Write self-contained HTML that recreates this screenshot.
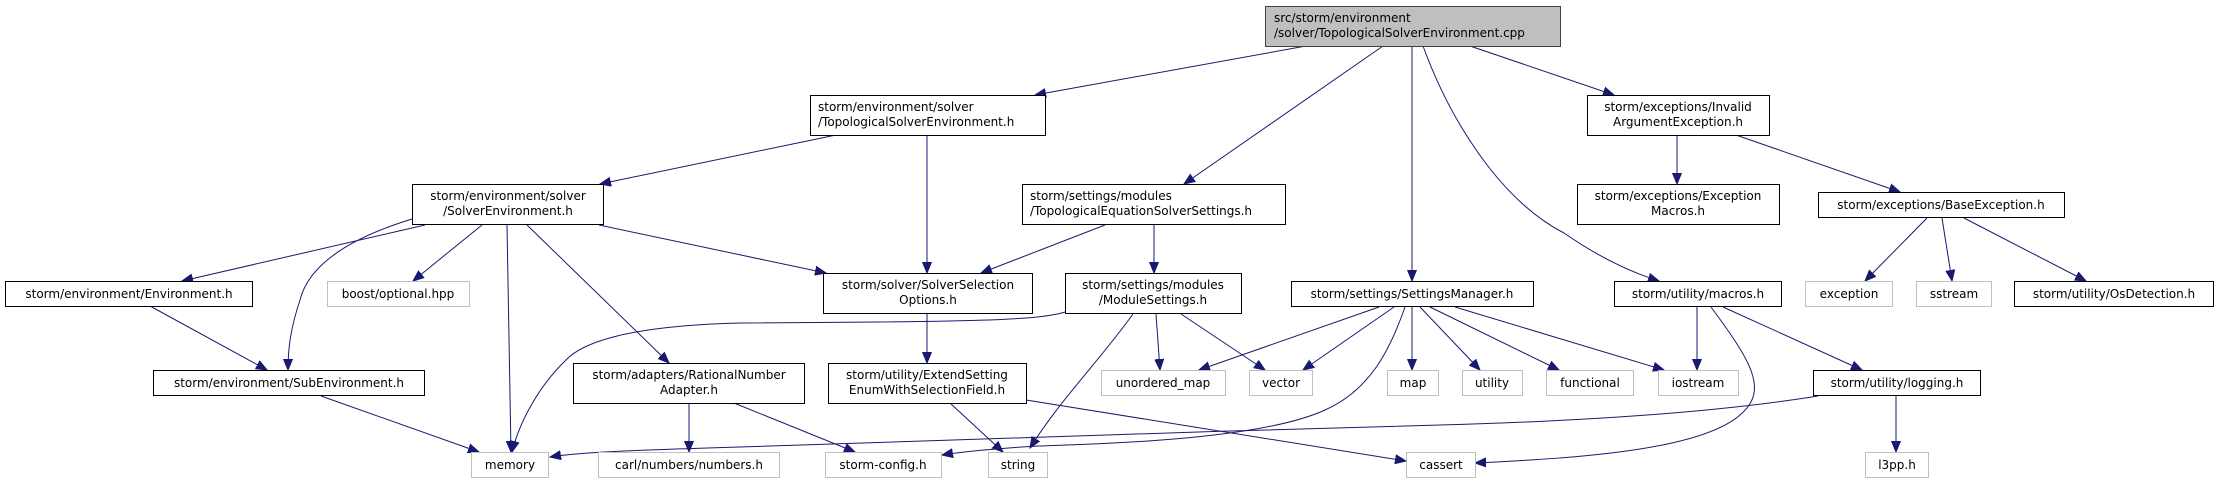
<!DOCTYPE html>
<html><head><meta charset="utf-8"><style>
html,body{margin:0;padding:0;background:#fff;}
svg{display:block;}
text{font-family:"DejaVu Sans","Liberation Sans",sans-serif;font-size:12px;fill:#000;}
.n{fill:#fff;stroke:#000;stroke-width:1;}
.g{fill:#fff;stroke:#bfbfbf;stroke-width:1;}
.e{fill:none;stroke:#191970;stroke-width:1;}
</style></head><body>
<svg width="2219" height="484" viewBox="0 0 2219 484" xmlns="http://www.w3.org/2000/svg">
<defs>
<marker id="a" markerUnits="userSpaceOnUse" markerWidth="12" markerHeight="10" refX="11" refY="5" orient="auto">
<path d="M0,0.5 L11,5 L0,9.5 z" fill="#191970" stroke="#191970"/>
</marker>
</defs>
<!-- edges -->
<g class="e" marker-end="url(#a)">
<path d="M1306,46 L1035,95"/>
<path d="M1383,46 L1184,184"/>
<path d="M1412,46 L1412,281"/>
<path d="M1423,46 C1450,120 1500,200 1564,233 C1600,258 1630,272 1659,281"/>
<path d="M1470,46 L1614,95"/>
<path d="M836,135 L600,184"/>
<path d="M927,135 L927,273"/>
<path d="M425,225 L182,281"/>
<path d="M412,219 C360,235 310,260 300,300 C290,330 288,350 288,370"/>
<path d="M482,225 L413,281"/>
<path d="M507,225 L511,452"/>
<path d="M527,225 L669,363"/>
<path d="M599,225 L826,273"/>
<path d="M150,306 L267,370"/>
<path d="M321,396 L479,452"/>
<path d="M1105,225 L981,273"/>
<path d="M1154,225 L1154,273"/>
<path d="M927,313 L927,363"/>
<path d="M1065,312 C1040,320 980,322 740,323 C620,326 580,345 566,360 C540,385 520,420 512,452"/>
<path d="M1133,314 C1100,360 1060,400 1030,448"/>
<path d="M1156,314 L1160,370"/>
<path d="M1181,314 L1265,370"/>
<path d="M689,403 L689,452"/>
<path d="M734,403 L855,452"/>
<path d="M950,403 L1003,452"/>
<path d="M1026,400 L1406,461"/>
<path d="M1379,307 L1199,370"/>
<path d="M1394,307 L1303,370"/>
<path d="M1412,307 L1412,370"/>
<path d="M1420,307 L1480,370"/>
<path d="M1430,307 L1559,370"/>
<path d="M1455,307 L1664,370"/>
<path d="M1405,307 C1390,350 1370,390 1325,410 C1260,440 1100,444 1039,446 C1000,448 960,452 942,455"/>
<path d="M1697,307 L1697,370"/>
<path d="M1711,307 C1750,360 1770,390 1740,415 C1700,450 1580,458 1475,463"/>
<path d="M1723,307 L1862,370"/>
<path d="M1818,396 C1700,415 1550,422 1440,425 C1200,432 900,440 740,447 C640,450 580,452 550,457"/>
<path d="M1896,396 L1896,452"/>
<path d="M1677,135 L1677,184"/>
<path d="M1736,135 L1900,192"/>
<path d="M1927,218 L1865,281"/>
<path d="M1942,218 L1952,281"/>
<path d="M1964,218 L2086,281"/>
</g>
<!-- nodes -->
<rect x="1265.5" y="6.5" width="295" height="40" fill="#bfbfbf" stroke="#404040"/>
<text x="1274" y="22">src/storm/environment</text>
<text x="1274" y="37">/solver/TopologicalSolverEnvironment.cpp</text>

<rect class="n" x="810.5" y="95.5" width="235" height="40"/>
<text x="818" y="111">storm/environment/solver</text>
<text x="818" y="126">/TopologicalSolverEnvironment.h</text>

<rect class="n" x="1587.5" y="95.5" width="182" height="40"/>
<text x="1678" y="111" text-anchor="middle">storm/exceptions/Invalid</text>
<text x="1678" y="126" text-anchor="middle">ArgumentException.h</text>

<rect class="n" x="412.5" y="184.5" width="191" height="40"/>
<text x="508" y="200" text-anchor="middle">storm/environment/solver</text>
<text x="508" y="215" text-anchor="middle">/SolverEnvironment.h</text>

<rect class="n" x="1022.5" y="184.5" width="263" height="40"/>
<text x="1030" y="200">storm/settings/modules</text>
<text x="1030" y="215">/TopologicalEquationSolverSettings.h</text>

<rect class="n" x="1577.5" y="184.5" width="202" height="40"/>
<text x="1678" y="200" text-anchor="middle">storm/exceptions/Exception</text>
<text x="1678" y="215" text-anchor="middle">Macros.h</text>

<rect class="n" x="1818.5" y="192.5" width="246" height="25"/>
<text x="1941" y="209" text-anchor="middle">storm/exceptions/BaseException.h</text>

<rect class="n" x="5.5" y="281.5" width="247" height="25"/>
<text x="129" y="298" text-anchor="middle">storm/environment/Environment.h</text>

<rect class="g" x="327.5" y="281.5" width="142" height="25"/>
<text x="398" y="298" text-anchor="middle">boost/optional.hpp</text>

<rect class="n" x="823.5" y="273.5" width="209" height="40"/>
<text x="928" y="289" text-anchor="middle">storm/solver/SolverSelection</text>
<text x="928" y="304" text-anchor="middle">Options.h</text>

<rect class="n" x="1065.5" y="273.5" width="176" height="40"/>
<text x="1153" y="289" text-anchor="middle">storm/settings/modules</text>
<text x="1153" y="304" text-anchor="middle">/ModuleSettings.h</text>

<rect class="n" x="1291.5" y="281.5" width="242" height="25"/>
<text x="1412" y="298" text-anchor="middle">storm/settings/SettingsManager.h</text>

<rect class="n" x="1614.5" y="281.5" width="167" height="25"/>
<text x="1698" y="298" text-anchor="middle">storm/utility/macros.h</text>

<rect class="g" x="1805.5" y="281.5" width="87" height="25"/>
<text x="1849" y="298" text-anchor="middle">exception</text>

<rect class="g" x="1916.5" y="281.5" width="75" height="25"/>
<text x="1954" y="298" text-anchor="middle">sstream</text>

<rect class="n" x="2014.5" y="281.5" width="199" height="25"/>
<text x="2114" y="298" text-anchor="middle">storm/utility/OsDetection.h</text>

<rect class="n" x="153.5" y="370.5" width="271" height="25"/>
<text x="289" y="387" text-anchor="middle">storm/environment/SubEnvironment.h</text>

<rect class="n" x="573.5" y="363.5" width="231" height="40"/>
<text x="689" y="379" text-anchor="middle">storm/adapters/RationalNumber</text>
<text x="689" y="394" text-anchor="middle">Adapter.h</text>

<rect class="n" x="828.5" y="363.5" width="198" height="40"/>
<text x="927" y="379" text-anchor="middle">storm/utility/ExtendSetting</text>
<text x="927" y="394" text-anchor="middle">EnumWithSelectionField.h</text>

<rect class="g" x="1101.5" y="370.5" width="124" height="25"/>
<text x="1163" y="387" text-anchor="middle">unordered_map</text>

<rect class="g" x="1249.5" y="370.5" width="63" height="25"/>
<text x="1281" y="387" text-anchor="middle">vector</text>

<rect class="g" x="1387.5" y="370.5" width="51" height="25"/>
<text x="1413" y="387" text-anchor="middle">map</text>

<rect class="g" x="1462.5" y="370.5" width="60" height="25"/>
<text x="1492" y="387" text-anchor="middle">utility</text>

<rect class="g" x="1546.5" y="370.5" width="87" height="25"/>
<text x="1590" y="387" text-anchor="middle">functional</text>

<rect class="g" x="1658.5" y="370.5" width="80" height="25"/>
<text x="1698" y="387" text-anchor="middle">iostream</text>

<rect class="n" x="1813.5" y="370.5" width="167" height="25"/>
<text x="1897" y="387" text-anchor="middle">storm/utility/logging.h</text>

<rect class="g" x="471.5" y="452.5" width="77" height="25"/>
<text x="510" y="469" text-anchor="middle">memory</text>

<rect class="g" x="598.5" y="452.5" width="181" height="25"/>
<text x="689" y="469" text-anchor="middle">carl/numbers/numbers.h</text>

<rect class="g" x="825.5" y="452.5" width="116" height="25"/>
<text x="883" y="469" text-anchor="middle">storm-config.h</text>

<rect class="g" x="988.5" y="452.5" width="59" height="25"/>
<text x="1018" y="469" text-anchor="middle">string</text>

<rect class="g" x="1406.5" y="452.5" width="69" height="25"/>
<text x="1441" y="469" text-anchor="middle">cassert</text>

<rect class="g" x="1865.5" y="452.5" width="63" height="25"/>
<text x="1897" y="469" text-anchor="middle">l3pp.h</text>
</svg>
</body></html>
